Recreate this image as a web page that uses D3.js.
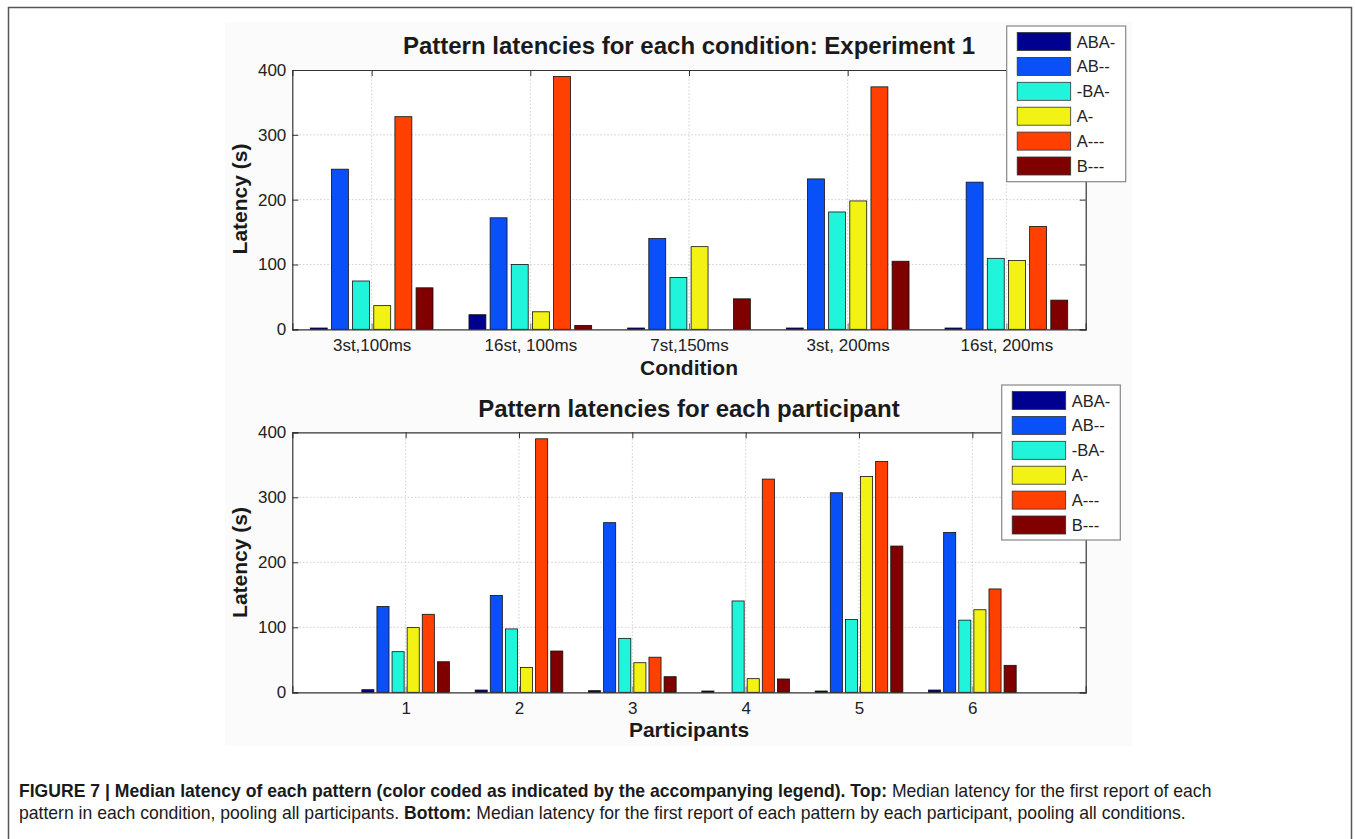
<!DOCTYPE html>
<html>
<head>
<meta charset="utf-8">
<script src="https://cdn.jsdelivr.net/npm/d3@7"></script>
<style>
  html, body { margin: 0; padding: 0; background: #fff; }
  svg { display: block; }
  text { font-family: Arial, "Liberation Sans", Helvetica, sans-serif; }
</style>
</head>
<body>
<svg id="chart" width="1355" height="839"></svg>
<script>
// ---------- data ----------
const seriesNames = ["ABA-", "AB--", "-BA-", "A-", "A---", "B---"];
const seriesColors = ["#000090", "#0a50f8", "#20f5dc", "#f2f215", "#ff4000", "#800000"];

const conditions = ["3st,100ms", "16st, 100ms", "7st,150ms", "3st, 200ms", "16st, 200ms"];
const condABA  = [2, 22.5, 2, 2, 2];
const condAB   = [247, 172, 140, 232, 227];
const condBA   = [74.5, 100, 80, 181, 109.5];
const condA    = [36.5, 27, 127.5, 198, 106];
const condA3   = [328, 390, 0, 374, 158.5];
const condB3   = [64, 6, 47, 105, 45];

const participants = ["1", "2", "3", "4", "5", "6"];
const partABA  = [4, 3.5, 2.5, 2, 2, 3.5];
const partAB   = [132, 149, 261, 0, 307, 246];
const partBA   = [62.5, 97.5, 83, 140.5, 112, 111];
const partA    = [99.5, 38, 45.5, 21, 332, 127];
const partA3   = [120, 390, 54, 328, 355, 159];
const partB3   = [47, 63.5, 24, 20.5, 225, 41.5];

const yTicks = [0, 100, 200, 300, 400];

const topTitle = "Pattern latencies for each condition: Experiment 1";
const bottomTitle = "Pattern latencies for each participant";
const yLabel = "Latency (s)";
const topXLabel = "Condition";
const bottomXLabel = "Participants";

const captionLine1 = [
  {bold: true,  text: "FIGURE 7 | Median latency of each pattern (color coded as indicated by the accompanying legend). Top:"},
  {bold: false, text: " Median latency for the first report of each"}
];
const captionLine2 = [
  {bold: false, text: "pattern in each condition, pooling all participants. "},
  {bold: true,  text: "Bottom:"},
  {bold: false, text: " Median latency for the first report of each pattern by each participant, pooling all conditions."}
];

// ---------- drawing ----------
const svg = d3.select("#chart");

// outer frame
svg.append("rect").attr("x", 8.5).attr("y", 7.5).attr("width", 1343).attr("height", 860)
  .attr("fill", "#fff").attr("stroke", "#555").attr("stroke-width", 1.5);
// faint figure image background
svg.append("rect").attr("x", 225).attr("y", 22).attr("width", 907).attr("height", 724)
  .attr("fill", "#fbfbfb");

function drawChart(cfg) {
  const g = svg.append("g");
  const left = 292.3, right = 1085.7;
  const x = d3.scaleLinear().domain(cfg.xDomain).range([left, right]);
  const y = d3.scaleLinear().domain([0, 400]).range([cfg.y0, cfg.y400]);
  const catPos = cfg.categories.map((c, i) => i + 1);
  const nS = cfg.values.length;
  const groupW = 0.8;
  const pitch = groupW / nS;
  const barW = pitch * 0.8;

  g.append("rect").attr("x", left).attr("y", y(400)).attr("width", right - left)
    .attr("height", y(0) - y(400)).attr("fill", "#fff");

  // grid
  g.append("g").selectAll("line").data(yTicks.filter(t => t > 0 && t < 400)).join("line")
    .attr("x1", left).attr("x2", right).attr("y1", d => y(d)).attr("y2", d => y(d))
    .attr("stroke", "#c4c4c4").attr("stroke-width", 0.8).attr("stroke-dasharray", "1.5,2");
  g.append("g").selectAll("line").data(catPos).join("line")
    .attr("x1", d => x(d)).attr("x2", d => x(d)).attr("y1", y(0)).attr("y2", y(400))
    .attr("stroke", "#c4c4c4").attr("stroke-width", 0.8).attr("stroke-dasharray", "1.5,2");

  // bars
  cfg.values.forEach((vals, s) => {
    g.append("g").selectAll("rect").data(vals.map((v, i) => ({v, i}))).join("rect")
      .attr("x", d => x(catPos[d.i] + (s - (nS - 1) / 2) * pitch - barW / 2))
      .attr("width", d => x(barW) - x(0))
      .attr("y", d => y(d.v))
      .attr("height", d => y(0) - y(d.v))
      .attr("fill", seriesColors[s])
      .attr("stroke", "#111").attr("stroke-width", 0.8);
  });

  // axes
  const axisColor = "#333";
  const yAxis = d3.axisLeft(y).tickValues(yTicks).tickSize(-6).tickPadding(6).tickFormat(d3.format("d"));
  const yA = g.append("g").attr("transform", `translate(${left},0)`).call(yAxis);
  const yAR = g.append("g").attr("transform", `translate(${right},0)`)
    .call(d3.axisRight(y).tickValues(yTicks).tickSize(-6).tickFormat(""));
  const xAxis = d3.axisBottom(x).tickValues(catPos).tickSize(-6).tickPadding(10)
    .tickFormat((d, i) => cfg.categories[i]);
  const xA = g.append("g").attr("transform", `translate(0,${y(0)})`).call(xAxis);
  const xAT = g.append("g").attr("transform", `translate(0,${y(400)})`)
    .call(d3.axisTop(x).tickValues(catPos).tickSize(-6).tickFormat(""));
  [yA, yAR, xA, xAT].forEach(a => {
    a.select(".domain").attr("stroke", axisColor).attr("stroke-width", 1.2);
    a.selectAll(".tick line").attr("stroke", axisColor);
    a.selectAll(".tick text").attr("fill", "#222").style("font-size", "17px")
      .style("font-family", "Arial, 'Liberation Sans', sans-serif");
  });
  xA.selectAll(".tick line").attr("stroke", "#777");

  // titles
  g.append("text").attr("x", 689).attr("y", cfg.titleY).attr("text-anchor", "middle")
    .style("font-size", "24px").style("font-weight", "bold").attr("fill", "#1a1a1a")
    .text(cfg.title);
  g.append("text").attr("x", 689).attr("y", cfg.xLabelY).attr("text-anchor", "middle")
    .style("font-size", "21px").style("font-weight", "bold").attr("fill", "#1a1a1a")
    .text(cfg.xLabel);
  g.append("text").attr("transform", `translate(247,${cfg.yLabelY}) rotate(-90)`)
    .attr("text-anchor", "middle")
    .style("font-size", "21px").style("font-weight", "bold").attr("fill", "#1a1a1a")
    .text(yLabel);

  // legend
  const L = cfg.legend;
  const lg = g.append("g");
  lg.append("rect").attr("x", L.x).attr("y", L.y).attr("width", L.w).attr("height", L.h)
    .attr("fill", "#fff").attr("stroke", "#888").attr("stroke-width", 1.2);
  seriesNames.forEach((name, s) => {
    const cy = L.y + 15.5 + s * 24.9;
    lg.append("rect").attr("x", L.x + 10.5).attr("y", cy - 9).attr("width", 53.5).attr("height", 18)
      .attr("fill", seriesColors[s]).attr("stroke", "#333").attr("stroke-width", 0.8);
    lg.append("text").attr("x", L.x + 70).attr("y", cy + 6).style("font-size", "16.5px")
      .attr("fill", "#222").text(name);
  });
}

drawChart({
  categories: conditions,
  values: [condABA, condAB, condBA, condA, condA3, condB3],
  xDomain: [0.5, 5.5],
  y0: 329.3, y400: 70,
  title: topTitle, titleY: 53.5,
  xLabel: topXLabel, xLabelY: 375,
  yLabelY: 199,
  legend: {x: 1006.7, y: 26, w: 119, h: 155.7}
});

drawChart({
  categories: participants,
  values: [partABA, partAB, partBA, partA, partA3, partB3],
  xDomain: [0, 7],
  y0: 692.3, y400: 432.3,
  title: bottomTitle, titleY: 416.7,
  xLabel: bottomXLabel, xLabelY: 737,
  yLabelY: 562.5,
  legend: {x: 1001.7, y: 385, w: 118.6, h: 155}
});

// caption: natural flow of tspans, font size fitted so line 1 spans the measured width
const cap = svg.append("g")
  .style("font-family", "'Liberation Sans Narrow', 'Arial Narrow', Arial, sans-serif")
  .attr("fill", "#1a1a1a");
const capX = 19, line1End = 1212;
const lines = [[captionLine1, 797], [captionLine2, 818.5]].map(([segs, yy]) => {
  const t = cap.append("text").attr("x", capX).attr("y", yy).style("font-size", "17px");
  segs.forEach(s => t.append("tspan").style("font-weight", s.bold ? "bold" : "normal").text(s.text));
  return t;
});
const w1 = lines[0].node().getComputedTextLength();
const fs = Math.min(19, Math.max(14, 17 * (line1End - capX) / w1));
lines.forEach(t => t.style("font-size", fs + "px"));
</script>
</body>
</html>
